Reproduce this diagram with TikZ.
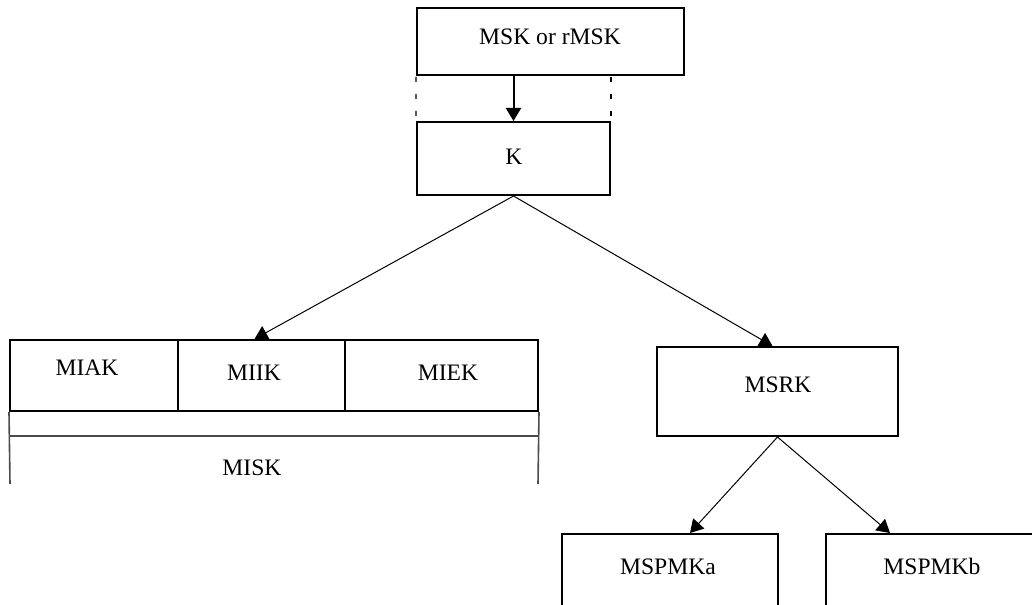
\documentclass[tikz,border=0pt]{standalone}
\usepackage{fontspec}
\setmainfont{Liberation Serif}
\usetikzlibrary{arrows.meta}
\begin{document}
\begin{tikzpicture}[x=1bp,y=-1bp,
  box/.style={draw=black, line width=2bp, inner sep=0pt},
  lbl/.style={anchor=base, inner sep=0pt, font=\fontsize{23.6bp}{28bp}\selectfont},
  tip/.style={-{Triangle[length=13bp,width=15bp]}},
  thickconn/.style={tip, line width=2bp},
  thinconn/.style={tip, line width=1bp},
  dashline/.style={line width=1.3bp, dash pattern=on 5bp off 12bp, dash phase=-1bp},
  grayline/.style={draw=black!70, line width=1.6bp}]
\useasboundingbox (0,0) rectangle (1032,605);
\clip (0,0) rectangle (1032,605);
\fill[white] (0,0) rectangle (1032,605);

% top boxes
\node[box, minimum width=267bp, minimum height=67bp] (msk) at (550.5,41.5) {};
\node[lbl] (tmsk) at (550,45) {MSK or rMSK};
\node[box, minimum width=193bp, minimum height=73bp] (k) at (513.5,158.5) {};
\node[lbl] (tk) at (514,165) {K};

\draw[thickconn] (k.north |- msk.south) -- (k.north);
\draw[dashline] (msk.south west) -- (k.north west);
\draw[dashline] (k.north east |- msk.south) -- (k.north east);

% MISK group
\node[box, minimum width=168bp, minimum height=71bp] (miak) at (94,375.5) {};
\node[box, minimum width=167bp, minimum height=71bp] (miik) at (261.5,375.5) {};
\node[box, minimum width=193bp, minimum height=71bp] (miek) at (441.5,375.5) {};
\node[lbl] (tmiak) at (87,375) {MIAK};
\node[lbl] (tmiik) at (254,380) {MIIK};
\node[lbl] (tmiek) at (448,380) {MIEK};
\coordinate (mbl) at (10,484);
\coordinate (mbr) at (538,484);
\draw[grayline] (miak.south west) -- (mbl);
\draw[grayline] (miek.south east) -- (mbr);
\draw[grayline] (10,436) -- (538,436);
\node[lbl] (tmisk) at (252,475) {MISK};

% MSRK
\node[box, minimum width=241bp, minimum height=89bp] (msrk) at (777.5,391.5) {};
\node[lbl] (tmsrk) at (778,392) {MSRK};

% bottom boxes (cut by the page edge)
\node[box, minimum width=216bp, minimum height=110bp] (mspa) at (670,589) {};
\node[lbl] (tmspa) at (668,574) {MSPMKa};
\node[box, minimum width=212bp, minimum height=110bp] (mspb) at (932,589) {};
\node[lbl] (tmspb) at (932,574) {MSPMKb};

% connectors
\draw[thinconn] (k.south) -- ([xshift=-7bp]miik.north);
\draw[thinconn] (k.south) -- ([xshift=-5bp]msrk.north);
\draw[thinconn] (msrk.south) -- ([xshift=20bp]mspa.north);
\draw[thinconn] (msrk.south) -- ([xshift=-42bp]mspb.north);
\end{tikzpicture}
\end{document}
